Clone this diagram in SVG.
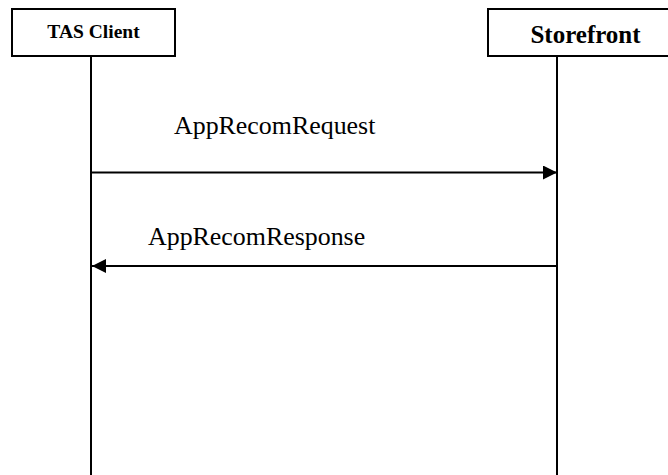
<svg xmlns="http://www.w3.org/2000/svg" width="668" height="475" viewBox="0 0 668 475">
<style>
.box{fill:#fff;stroke:#000;stroke-width:2}
.life{stroke:#000;stroke-width:2;fill:none}
.msg{stroke:#000;stroke-width:1.8;fill:none}
text{font-family:'Liberation Serif','Times New Roman',Times,serif;fill:#000}
.b{font-weight:bold}
</style>
<defs>
<marker id="ah" viewBox="0 0 14 14" refX="14" refY="7" markerWidth="14" markerHeight="14" markerUnits="userSpaceOnUse" orient="auto">
<path d="M0,0 L14,7 L0,14 Z" fill="#000"/>
</marker>
</defs>
<g id="tas-client">
<rect class="box" x="12" y="9" width="163" height="47"/>
<text class="b" x="93.5" y="38" font-size="19.5" text-anchor="middle">TAS Client</text>
<line class="life" x1="91" y1="56" x2="91" y2="475"/>
</g>
<g id="storefront">
<rect class="box" x="488" y="9" width="190" height="47"/>
<text class="b" x="585.5" y="43" font-size="25" text-anchor="middle">Storefront</text>
<line class="life" x1="557" y1="56" x2="557" y2="475"/>
</g>
<g id="connectors">
<line class="msg" x1="91" y1="172.5" x2="557" y2="172.5" marker-end="url(#ah)"/>
<text x="174" y="134" font-size="25.9">AppRecomRequest</text>
<line class="msg" x1="557" y1="266" x2="92" y2="266" marker-end="url(#ah)"/>
<text x="148" y="245" font-size="25.9">AppRecomResponse</text>
</g>
</svg>
